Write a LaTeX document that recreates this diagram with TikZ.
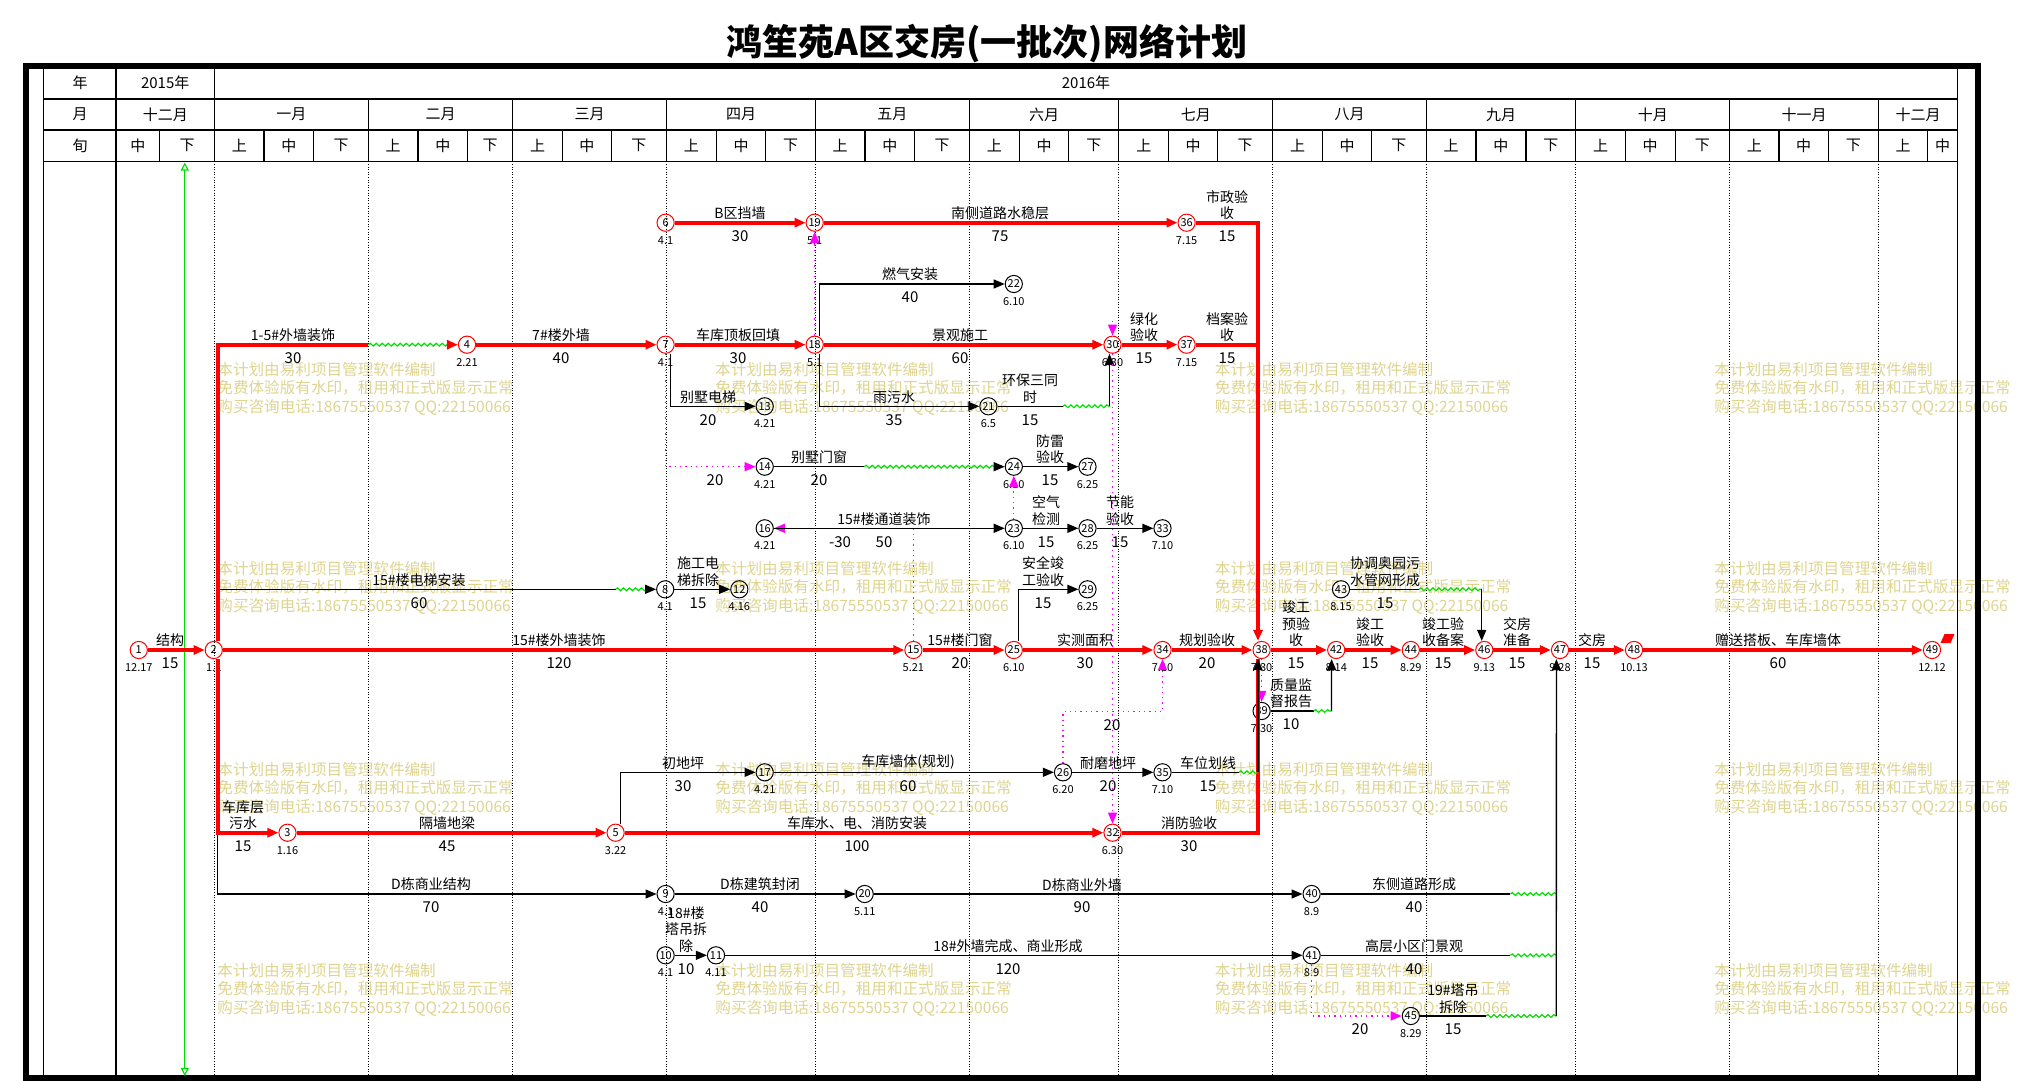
\documentclass[tikz,border=0pt]{standalone}
\usepackage{fontspec}
\setmainfont{Noto Sans CJK SC}
\usetikzlibrary{arrows.meta,decorations.pathmorphing}
\definecolor{myred}{rgb}{1,0,0}
\definecolor{mygreen}{rgb}{0,0.88,0}
\definecolor{mymagenta}{rgb}{1,0,1}
\definecolor{mywater}{rgb}{0.87,0.83,0.56}
\begin{document}
\begin{tikzpicture}[x=0.5pt,y=-0.5pt,
ev/.style={circle,draw,minimum size=8.6pt,inner sep=0pt,line width=0.5pt,font=\fontsize{5.5}{5.5}\selectfont},
cev/.style={ev,draw=myred},
label distance=2pt,
every label/.style={font=\fontsize{5.5}{5.5}\selectfont,inner sep=0pt},
critl/.style={myred,line width=2pt},
crit/.style={critl,-{Triangle[length=5.5pt,width=4.5pt]}},
workl/.style={black,line width=0.65pt},
work/.style={workl,-{Triangle[length=5.5pt,width=4.5pt]}},
dummy/.style={mymagenta,line width=0.65pt,dotted,-{Triangle[length=5.5pt,width=4.5pt]}},
free/.style={mygreen,line width=0.6pt,decorate,decoration={snake,amplitude=0.7pt,segment length=3pt}},
lbl/.style={anchor=south,align=center,inner sep=0.5pt,font=\fontsize{7}{8.3}\selectfont},
dur/.style={inner sep=0pt,font=\fontsize{7.5}{7.5}\selectfont},
hd/.style={inner sep=0pt,font=\fontsize{7.5}{7.5}\selectfont},
wm/.style={anchor=north west,align=left,inner sep=0pt,mywater,font=\fontsize{7.8}{9.1}\selectfont}]
\useasboundingbox (0,0) rectangle (2018,1081);

\foreach \x [count=\i] in {217,715,1214.5,1714}
  \foreach \y [count=\j] in {362,561,762,963}
    \node[wm] (wm\i\j) at (\x,\y) {本计划由易利项目管理软件编制\\免费体验版有水印，租用和正式版显示正常\\购买咨询电话:18675550537 QQ:22150066};

\node[font=\fontsize{18}{18}\selectfont\bfseries] (title) at (987,43.5) {鸿笙苑A区交房(一批次)网络计划};

\draw[line width=2.8pt] (25.8,66) rectangle (1977.8,1078);
\draw[line width=0.65pt] (43.8,66) -- (43.8,1078);
\draw[line width=0.65pt] (116,66) -- (116,1078);
\draw[line width=0.65pt] (1957.6,66) -- (1957.6,1078);
\draw[line width=0.65pt] (214.5,66) -- (214.5,99);
\foreach \y in {99,130,161.3}
  \draw[line width=0.65pt] (43.8,\y) -- (1957.6,\y);
\foreach \x in {214.5,368.4,512.7,666.6,815.4,969.4,1118.8,1272.7,1426.5,1575.8,1729.7,1878.4}{
  \draw[line width=0.65pt] (\x,99) -- (\x,161.3);
  \draw[line width=0.5pt,dash pattern=on 0.5pt off 0.8pt] (\x,161.3) -- (\x,1078);
}
\foreach \x in {159.7,264,313.7,418,467.6,562.3,611.3,716.2,765.8,865,914.6,1019.5,1068.8,1168.8,1217.5,1322.7,1371.3,1475.9,1525.9,1625.2,1675.2,1779,1828.4,1927.7}
  \draw[line width=0.65pt] (\x,130) -- (\x,161.3);

\node[hd] (yr) at (80,82.5) {年};
\node[hd] (y15) at (165.2,82.5) {2015年};
\node[hd] (y16) at (1086,82.5) {2016年};
\node[hd] (mo) at (80,114.5) {月};
\node[hd] (xun) at (80,145.7) {旬};
\foreach \a/\b/\m [count=\i] in {116/214.5/十二月,214.5/368.4/一月,368.4/512.7/二月,512.7/666.6/三月,666.6/815.4/四月,815.4/969.4/五月,969.4/1118.8/六月,1118.8/1272.7/七月,1272.7/1426.5/八月,1426.5/1575.8/九月,1575.8/1729.7/十月,1729.7/1878.4/十一月,1878.4/1957.6/十二月}
  \node[hd] (m\i) at ({(\a+\b)/2},114.5) {\m};
\foreach \a/\b/\t [count=\i] in {116/159.7/中,159.7/214.5/下,
  214.5/264/上,264/313.7/中,313.7/368.4/下,368.4/418/上,418/467.6/中,467.6/512.7/下,
  512.7/562.3/上,562.3/611.3/中,611.3/666.6/下,666.6/716.2/上,716.2/765.8/中,765.8/815.4/下,
  815.4/865/上,865/914.6/中,914.6/969.4/下,969.4/1019.5/上,1019.5/1068.8/中,1068.8/1118.8/下,
  1118.8/1168.8/上,1168.8/1217.5/中,1217.5/1272.7/下,1272.7/1322.7/上,1322.7/1371.3/中,1371.3/1426.5/下,
  1426.5/1475.9/上,1475.9/1525.9/中,1525.9/1575.8/下,1575.8/1625.2/上,1625.2/1675.2/中,1675.2/1729.7/下,
  1729.7/1779/上,1779/1828.4/中,1828.4/1878.4/下,1878.4/1927.7/上,1927.7/1957.6/中}
  \node[hd] (x\i) at ({(\a+\b)/2},145.7) {\t};

\coordinate (today1) at (184.8,162.5);
\coordinate (today2) at (184.8,1076);
\draw[mygreen,line width=0.6pt,{Triangle[open,length=4pt,width=4pt]}-{Triangle[open,length=4pt,width=4pt]}] (today1) -- (today2);

\node[cev,label={below:12.17}] (n1) at (138.8,650) {1};
\node[cev,label={below:1.1}] (n2) at (213.8,650) {2};
\node[cev,label={below:1.16}] (n3) at (287.5,832.7) {3};
\node[cev,label={below:2.21}] (n4) at (467,344.7) {4};
\node[cev,label={below:3.22}] (n5) at (615.6,832.7) {5};
\node[cev,label={below:4.1}] (n6) at (665.6,222.7) {6};
\node[cev,label={below:4.1}] (n7) at (665.6,344.7) {7};
\node[ev,label={below:4.1}] (n8) at (665.2,589.3) {8};
\node[ev,label={below:4.1}] (n9) at (665.6,894) {9};
\node[ev,label={below:4.1}] (n10) at (665.6,955.3) {10};
\node[ev,label={below:4.11}] (n11) at (716,955.3) {11};
\node[ev,label={below:4.16}] (n12) at (739.3,589.3) {12};
\node[ev,label={below:4.21}] (n13) at (764.7,406.3) {13};
\node[ev,label={below:4.21}] (n14) at (764.7,466.7) {14};
\node[cev,label={below:5.21}] (n15) at (913.4,650) {15};
\node[ev,label={below:4.21}] (n16) at (764.7,528.3) {16};
\node[ev,label={below:4.21}] (n17) at (764.7,772.3) {17};
\node[cev,label={below:5.1}] (n18) at (814.7,344.7) {18};
\node[cev,label={below:5.1}] (n19) at (814.7,222.7) {19};
\node[ev,label={below:5.11}] (n20) at (864.7,894) {20};
\node[ev,label={below:6.5}] (n21) at (988.4,406.3) {21};
\node[ev,label={below:6.10}] (n22) at (1013.8,284) {22};
\node[ev,label={below:6.10}] (n23) at (1013.8,528.3) {23};
\node[ev,label={below:6.10}] (n24) at (1013.8,466.7) {24};
\node[cev,label={below:6.10}] (n25) at (1013.8,650) {25};
\node[ev,label={below:6.20}] (n26) at (1063,772.3) {26};
\node[ev,label={below:6.25}] (n27) at (1087.5,466.7) {27};
\node[ev,label={below:6.25}] (n28) at (1087.5,528.3) {28};
\node[ev,label={below:6.25}] (n29) at (1087.5,589.3) {29};
\node[cev,label={below:6.30}] (n30) at (1112.5,344.7) {30};
\node[cev,label={below:6.30}] (n32) at (1112.5,832.7) {32};
\node[ev,label={below:7.10}] (n33) at (1162.5,528.3) {33};
\node[cev,label={below:7.10}] (n34) at (1162.5,650) {34};
\node[ev,label={below:7.10}] (n35) at (1162.5,772.3) {35};
\node[cev,label={below:7.15}] (n36) at (1186.6,222.7) {36};
\node[cev,label={below:7.15}] (n37) at (1186.6,344.7) {37};
\node[cev,label={below:7.30}] (n38) at (1261.6,650) {38};
\node[ev,label={below:7.30}] (n39) at (1261.6,711) {39};
\node[ev,label={below:8.9}] (n40) at (1311.6,894) {40};
\node[ev,label={below:8.9}] (n41) at (1311.6,955.3) {41};
\node[cev,label={below:8.14}] (n42) at (1336.2,650) {42};
\node[ev,label={below:8.15}] (n43) at (1341,589.3) {43};
\node[cev,label={below:8.29}] (n44) at (1410.8,650) {44};
\node[ev,label={below:8.29}] (n45) at (1410.8,1016) {45};
\node[cev,label={below:9.13}] (n46) at (1484.3,650) {46};
\node[cev,label={below:9.28}] (n47) at (1560,650) {47};
\node[cev,label={below:10.13}] (n48) at (1634,650) {48};
\node[cev,label={below:12.12}] (n49) at (1932,650) {49};
\fill[myred] (1940.5,643) -- (1944.5,634) -- (1954.5,634) -- (1950.5,643) -- cycle;

\coordinate (w4a) at (368.4,344.7);
\coordinate (w4b) at (449,344.7);
\coordinate (w8a) at (615.6,589.3);
\coordinate (w8b) at (647,589.3);
\coordinate (w24a) at (864.3,466.7);
\coordinate (w24b) at (996,466.7);
\coordinate (w30a) at (1063,406.3);
\coordinate (w30b) at (1109.5,406.3);
\coordinate (c30t) at (1112.5,321);
\coordinate (c34) at (1162.5,711.7);
\coordinate (j37) at (1258,344.7);
\coordinate (w38a) at (1239,772.3);
\coordinate (w38b) at (1258,772.3);
\coordinate (w42a) at (1313.7,711);
\coordinate (w42b) at (1331.5,711);
\coordinate (w46a) at (1419,589.3);
\coordinate (w46b) at (1481.7,589.3);
\coordinate (w47a) at (1510.4,894);
\coordinate (w47b) at (1556.3,894);
\coordinate (w47c) at (1510.4,955.3);
\coordinate (w47d) at (1556.3,955.3);
\coordinate (w47e) at (1486,1016);
\coordinate (w47f) at (1556.3,1016);

\draw[workl] ([xshift=2pt]n2.north) |- (w8a);
\draw[free] (w8a) -- (w8b);
\draw[work] (w8b) -- (n8);
\draw[work] ([xshift=2pt]n2.south) |- (n9);
\draw[work] (n8) -- (n12);
\draw[work] ([xshift=2.5pt]n7.south) |- (n13);
\draw[dummy] (n7.south) |- (n14);
\draw[work] ([xshift=2.5pt]n18.north) |- (n22);
\draw[dummy] (n18) -- (n19);
\draw[work] ([xshift=2.5pt]n18.south) |- (n21);
\draw[workl] (n21) -- (w30a);
\draw[free] (w30a) -- (w30b);
\draw[work] (w30b) -- ([xshift=-1.5pt]n30.south);
\draw[dummy] (c30t) -- (n30);
\draw[workl] (n14) -- (w24a);
\draw[free] (w24a) -- (w24b);
\draw[work] (w24b) -- (n24);
\draw[work] (n24) -- (n27);
\draw[dummy] (n23) -- (n24);
\draw[dummy] (n15.north) |- (n16);
\draw[work] (n16) -- (n23);
\draw[work] (n23) -- (n28);
\draw[work] (n28) -- (n33);
\draw[work] ([xshift=2.5pt]n25.north) |- (n29);
\draw[workl] (n43) -- (w46a);
\draw[free] (w46a) -- (w46b);
\draw[work] (w46b) -- ([xshift=-1.3pt]n46.north);
\draw[dummy] (n30) -- (n32);
\draw[dummy] (n26) |- (c34) -- (n34);
\draw[dummy] (n38) -- (n39);
\draw[workl] (n39) -- (w42a);
\draw[free] (w42a) -- (w42b);
\draw[work] (w42b) -- ([xshift=-2.3pt]n42.south);
\draw[work] ([xshift=2.5pt]n5.north) |- (n17);
\draw[work] (n17) -- (n26);
\draw[work] (n26) -- (n35);
\draw[work] (n9) -- (n20);
\draw[work] (n20) -- (n40);
\draw[workl] (n40) -- (w47a);
\draw[free] (w47a) -- (w47b);
\draw[work] (n10) -- (n11);
\draw[work] (n11) -- (n41);
\draw[workl] (n41) -- (w47c);
\draw[free] (w47c) -- (w47d);
\draw[dummy] (n41.south) |- (n45);
\draw[workl] (n45) -- (w47e);
\draw[free] (w47e) -- (w47f);
\draw[work] (w47f) -- ([xshift=-1.8pt]n47.south);

\draw[crit] (n1) -- (n2);
\draw[critl] ([xshift=2pt]n2.north) |- (w4a);
\draw[free] (w4a) -- (w4b);
\draw[crit] (w4b) -- (n4);
\draw[crit] (n4) -- (n7);
\draw[crit] (n7) -- (n18);
\draw[crit] (n18) -- (n30);
\draw[crit] (n30) -- (n37);
\draw[critl] (n37) -- (j37);
\draw[crit] (n6) -- (n19);
\draw[crit] (n19) -- (n36);
\draw[crit] (n36) -| ([xshift=-1.8pt]n38.north);
\draw[crit] ([xshift=2pt]n2.south) |- (n3);
\draw[crit] (n3) -- (n5);
\draw[crit] (n5) -- (n32);
\draw[critl] (n32) -| ([xshift=-1.8pt]n38.south);
\draw[crit] (n2) -- (n15);
\draw[crit] (n15) -- (n25);
\draw[crit] (n25) -- (n34);
\draw[crit] (n34) -- (n38);
\draw[crit] (n38) -- (n42);
\draw[crit] (n42) -- (n44);
\draw[crit] (n44) -- (n46);
\draw[crit] (n46) -- (n47);
\draw[crit] (n47) -- (n48);
\draw[crit] (n48) -- (n49);
\draw[workl] (n35) -- (w38a);
\draw[free] (w38a) -- (w38b);
\draw[work] (w38b) -- ([xshift=-1.8pt]n38.south);

\foreach \x/\y/\t/\d [count=\i] in {
  740/222.7/B区挡墙/30, 1000/222.7/南侧道路水稳层/75, 1227/222.7/{市政验\\收}/15,
  910/284/燃气安装/40,
  293/344.7/1-5\#外墙装饰/30, 561/344.7/7\#楼外墙/40, 738/344.7/车库顶板回填/30,
  960/344.7/景观施工/60, 1144/344.7/{绿化\\验收}/15, 1227/344.7/{档案验\\收}/15,
  708/406.3/别墅电梯/20, 894/406.3/雨污水/35, 1030/406.3/{环保三同\\时}/15,
  819/466.7/别墅门窗/20, 1050/466.7/{防雷\\验收}/15,
  1046/528.3/{空气\\检测}/15, 1120/528.3/{节能\\验收}/15,
  419/589.3/15\#楼电梯安装/60, 698/589.3/{施工电\\梯拆除}/15,
  1043/589.3/{安全竣\\工验收}/15, 1385/589.3/{协调奥园污\\水管网形成}/15,
  170/650/结构/15, 559/650/15\#楼外墙装饰/120, 960/650/15\#楼门窗/20,
  1085/650/实测面积/30, 1207/650/规划验收/20, 1296/650/{竣工\\预验\\收}/15,
  1370/650/{竣工\\验收}/15, 1443/650/{竣工验\\收备案}/15, 1517/650/{交房\\准备}/15,
  1592/650/交房/15, 1778/650/赠送搭板、车库墙体/60,
  1291/711/{质量监\\督报告}/10,
  683/772.3/初地坪/30, 908/772.3/车库墙体(规划)/60, 1108/772.3/耐磨地坪/20,
  1208/772.3/车位划线/15,
  243/832.7/{车库层\\污水}/15, 447/832.7/隔墙地梁/45, 857/832.7/车库水、电、消防安装/100,
  1189/832.7/消防验收/30,
  431/894/D栋商业结构/70, 760/894/D栋建筑封闭/40, 1082/894/D栋商业外墙/90,
  1414/894/东侧道路形成/40,
  686/955.3/{18\#楼\\塔吊拆\\除}/10, 1008/955.3/18\#外墙完成、商业形成/120,
  1414/955.3/高层小区门景观/40,
  1453/1016/{19\#塔吊\\拆除}/15}{
  \node[lbl] (l\i) at (\x,\y-1.5) {\t};
  \node[dur] (d\i) at (\x,\y+13.5) {\d};
}
\node[lbl] (l16a) at (884,526.8) {15\#楼通道装饰};
\node[dur] (d16a) at (840,541.8) {-30};
\node[dur] (d16b) at (884,541.8) {50};
\node[dur] (d14) at (715,480.2) {20};
\node[dur] (d34) at (1112,725.2) {20};
\node[dur] (d45) at (1360,1029.5) {20};
\end{tikzpicture}
\end{document}
